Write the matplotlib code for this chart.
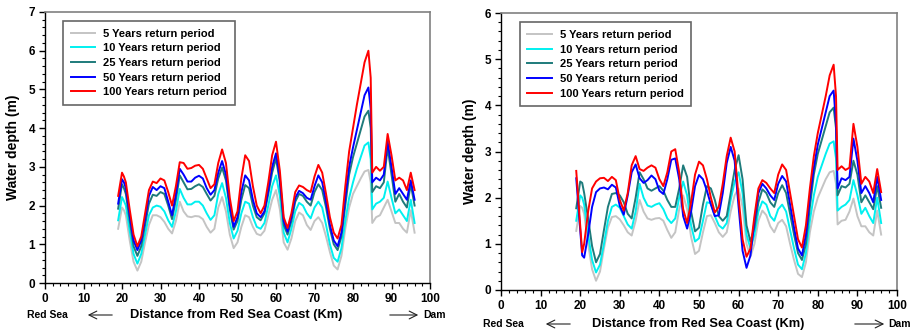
"""Water depth profiles along the wadi for several return periods (two scenarios)."""

import matplotlib
matplotlib.use("Agg")
import matplotlib.pyplot as plt
from matplotlib.ticker import AutoMinorLocator, MultipleLocator

plt.rcParams["font.family"] = ["Liberation Sans", "DejaVu Sans"]
plt.rcParams["font.weight"] = "bold"

# distance from Red Sea coast (km), shared by every series
X_KM = [19, 20, 20.5] + list(range(21, 85)) + [84.6] + list(range(85, 97))

LABELS = [
    "5 Years return period",
    "10 Years return period",
    "25 Years return period",
    "50 Years return period",
    "100 Years return period",
]
COLORS = ["#c4c4c4", "#00f0f0", "#1e7b7b", "#0000ff", "#ff0000"]

# ---- left panel (scenario 1) ----
L_5 = [1.4, 1.95, 1.88, 1.75, 1.1, 0.55, 0.32, 0.55, 1.05, 1.5, 1.75, 1.75,
       1.7, 1.58, 1.4, 1.28, 1.6, 2.1, 1.85, 1.72, 1.7, 1.73,
       1.72, 1.65, 1.45, 1.3, 1.4, 1.95, 2.22, 1.85, 1.25, 0.9,
       1.05, 1.45, 1.75, 1.7, 1.45, 1.27, 1.23, 1.35, 1.75, 2.15,
       2.4, 1.9, 1.05, 0.86, 1.15, 1.6, 1.82, 1.75, 1.5, 1.37,
       1.6, 1.7, 1.55, 1.2, 0.8, 0.45, 0.35, 0.7, 1.4, 1.95,
       2.3, 2.5, 2.7, 2.88, 2.92, 2.6,
       1.55, 1.7, 1.75, 1.95, 2.15, 1.85, 1.55, 1.55, 1.4, 1.3, 1.88, 1.3]
L_10 = [1.62, 2.22, 2.12, 2.0, 1.35, 0.75, 0.5, 0.75, 1.25, 1.75, 1.95, 2.0,
        1.97, 1.85, 1.62, 1.45, 1.85, 2.43, 2.2, 2.03, 2.03, 2.1,
        2.1, 2.0, 1.8, 1.63, 1.75, 2.3, 2.58, 2.2, 1.55, 1.15,
        1.35, 1.8, 2.1, 2.05, 1.7, 1.45, 1.4, 1.55, 2.0, 2.5,
        2.78, 2.25, 1.3, 1.05, 1.4, 1.85, 2.07, 2.0, 1.8, 1.67,
        1.95, 2.1, 1.95, 1.5, 1.0, 0.65, 0.55, 0.9, 1.6, 2.2,
        2.6, 2.95, 3.25, 3.55, 3.63, 3.2,
        1.9, 2.05, 2.1, 2.2, 2.62, 2.2, 1.8, 1.9, 1.75, 1.6, 2.15, 1.55]
L_25 = [1.92, 2.55, 2.45, 2.3, 1.6, 0.95, 0.7, 0.95, 1.5, 2.05, 2.28, 2.25,
        2.35, 2.3, 2.0, 1.65, 2.15, 2.78, 2.6, 2.42, 2.43, 2.5,
        2.55, 2.48, 2.3, 2.13, 2.25, 2.7, 2.98, 2.65, 1.9, 1.38,
        1.6, 2.15, 2.53, 2.45, 2.0, 1.7, 1.62, 1.8, 2.3, 2.85,
        3.22, 2.6, 1.5, 1.25, 1.6, 2.1, 2.3, 2.25, 2.1, 2.0,
        2.35, 2.55, 2.4, 1.95, 1.4, 1.0, 0.85, 1.2, 2.0, 2.8,
        3.25, 3.6, 3.95, 4.3, 4.45, 4.0,
        2.35, 2.5, 2.45, 2.6, 3.5, 2.8, 2.1, 2.3, 2.1, 1.95, 2.55, 2.0]
L_50 = [2.05, 2.68, 2.6, 2.45, 1.75, 1.1, 0.85, 1.1, 1.65, 2.25, 2.48, 2.4,
        2.5, 2.45, 2.1, 1.75, 2.3, 2.95, 2.8, 2.62, 2.62, 2.72,
        2.77, 2.7, 2.45, 2.28, 2.4, 2.85, 3.15, 2.8, 2.0, 1.45,
        1.7, 2.35, 2.78, 2.65, 2.15, 1.8, 1.7, 1.85, 2.4, 3.0,
        3.35, 2.7, 1.6, 1.33, 1.7, 2.2, 2.38, 2.32, 2.2, 2.15,
        2.5, 2.78, 2.6, 2.1, 1.5, 1.1, 0.95, 1.3, 2.2, 3.0,
        3.5, 3.95, 4.4, 4.85, 5.05, 4.5,
        2.6, 2.72, 2.65, 2.8, 3.65, 3.0, 2.3, 2.45, 2.3, 2.15, 2.65, 2.15]
L_100 = [2.25, 2.85, 2.75, 2.6, 1.9, 1.25, 0.95, 1.2, 1.8, 2.4, 2.62, 2.58,
         2.7, 2.65, 2.35, 2.0, 2.5, 3.12, 3.1, 2.95, 2.97, 3.03,
         3.05, 2.95, 2.7, 2.45, 2.55, 3.1, 3.45, 3.1, 2.2, 1.6,
         1.85, 2.7, 3.3, 3.15, 2.5, 2.0, 1.8, 2.0, 2.6, 3.3,
         3.65, 2.9, 1.7, 1.42, 1.8, 2.35, 2.52, 2.48, 2.4, 2.35,
         2.75, 3.05, 2.85, 2.3, 1.7, 1.3, 1.15, 1.5, 2.5, 3.4,
         4.0, 4.6, 5.15, 5.7, 6.0, 5.3,
         2.85, 3.0, 2.9, 3.0, 3.85, 3.3, 2.65, 2.72, 2.65, 2.4, 2.85, 2.4]

# ---- right panel (scenario 2) ----
R_5 = [1.28, 1.82, 1.78, 1.65, 1.0, 0.45, 0.2, 0.4, 0.9, 1.35, 1.58, 1.6,
       1.53, 1.4, 1.25, 1.18, 1.5, 1.95, 1.7, 1.55, 1.52, 1.55,
       1.56, 1.5, 1.3, 1.13, 1.25, 1.75, 2.05, 1.75, 1.15, 0.78,
       0.85, 1.25, 1.6, 1.62, 1.45, 1.25, 1.15, 1.25, 1.7, 2.05,
       2.2, 1.8, 1.0, 0.72, 1.0, 1.5, 1.72, 1.62, 1.38, 1.25,
       1.45, 1.52, 1.38, 1.0, 0.65, 0.35, 0.28, 0.6, 1.25, 1.7,
       2.0, 2.2, 2.4, 2.55, 2.58, 2.3,
       1.42, 1.5, 1.52, 1.7, 1.98, 1.6, 1.38, 1.38, 1.25, 1.18, 1.72, 1.2]
R_10 = [1.5, 2.05, 2.0, 1.85, 1.2, 0.65, 0.38, 0.55, 1.0, 1.5, 1.8, 1.85,
        1.78, 1.6, 1.42, 1.33, 1.7, 2.3, 2.0, 1.83, 1.8, 1.85,
        1.88, 1.75, 1.55, 1.45, 1.55, 2.0, 2.35, 2.05, 1.4, 1.05,
        1.12, 1.5, 1.9, 1.88, 1.6, 1.4, 1.33, 1.45, 1.95, 2.35,
        2.55, 2.1, 1.2, 0.9, 1.2, 1.7, 1.92, 1.85, 1.6, 1.5,
        1.75, 1.85, 1.7, 1.3, 0.9, 0.55, 0.45, 0.8, 1.5, 2.05,
        2.45, 2.7, 2.95, 3.17, 3.22, 2.85,
        1.72, 1.8, 1.85, 1.95, 2.38, 2.05, 1.65, 1.78, 1.6, 1.45, 2.0, 1.45]
R_25 = [1.77, 2.35, 2.32, 2.1, 1.55, 0.95, 0.6, 0.78, 1.3, 1.8, 2.08, 2.1,
        2.05, 1.9, 1.65, 1.55, 2.0, 2.55, 2.4, 2.2, 2.15, 2.2,
        2.25, 2.15, 1.95, 1.8, 1.8, 2.2, 2.7, 2.45, 1.7, 1.27,
        1.35, 1.85, 2.25, 2.2, 1.95, 1.6, 1.5, 1.6, 2.1, 2.6,
        2.92, 2.4, 1.4, 1.05, 1.35, 1.9, 2.18, 2.1, 1.9, 1.8,
        2.1, 2.27, 2.1, 1.65, 1.2, 0.8, 0.65, 1.0, 1.8, 2.5,
        2.95, 3.25, 3.55, 3.85, 3.95, 3.5,
        2.05, 2.25, 2.22, 2.3, 2.8, 2.5, 1.9, 2.05, 1.9, 1.75, 2.25, 1.78]
R_50 = [2.42, 1.3, 0.75, 0.7, 1.2, 1.8, 2.12, 2.2, 2.22, 2.18, 2.28, 2.22,
        1.82, 1.63, 2.05, 2.55, 2.72, 2.42, 2.32, 2.38, 2.48, 2.4,
        2.15, 2.08, 2.4, 2.82, 2.85, 2.4, 1.6, 1.33, 1.7, 2.25,
        2.49, 2.4, 2.15, 1.85, 1.6, 1.62, 2.1, 2.75, 3.1, 2.8,
        1.8, 0.85, 0.48, 0.75, 1.5, 2.1, 2.3, 2.2, 2.05, 1.95,
        2.3, 2.47, 2.35, 1.85, 1.35, 0.9, 0.75, 1.2, 2.0, 2.65,
        3.15, 3.5, 3.85, 4.2, 4.32, 3.6,
        2.2, 2.42, 2.38, 2.45, 3.28, 2.8, 2.1, 2.25, 2.1, 1.9, 2.45, 1.95]
R_100 = [2.58, 1.4, 0.82, 1.0, 1.7, 2.2, 2.35, 2.42, 2.43, 2.36, 2.45, 2.38,
         1.95, 1.72, 2.1, 2.7, 2.9, 2.62, 2.58, 2.65, 2.7, 2.65,
         2.4, 2.25, 2.55, 3.0, 3.05, 2.55, 1.75, 1.45, 1.9, 2.5,
         2.78, 2.7, 2.4, 2.0, 1.68, 1.8, 2.3, 2.9, 3.3, 3.0,
         2.0, 1.1, 0.72, 0.9, 1.6, 2.2, 2.38, 2.32, 2.2, 2.1,
         2.5, 2.72, 2.6, 2.1, 1.6, 1.1, 0.92, 1.4, 2.2, 2.9,
         3.4, 3.8, 4.2, 4.65, 4.88, 4.2,
         2.6, 2.68, 2.6, 2.65, 3.6, 3.1, 2.3, 2.45, 2.35, 2.1, 2.62, 2.12]

LEFT = [L_5, L_10, L_25, L_50, L_100]
RIGHT = [R_5, R_10, R_25, R_50, R_100]
Y_MAX = [7, 6]


def _panel(fig, rect, series, ymax, label_x):
    ax = fig.add_axes(rect)
    for ys, lab, col in zip(series, LABELS, COLORS):
        assert len(ys) == len(X_KM), (lab, len(ys))
        ax.plot(X_KM, ys, color=col, lw=1.4, label=lab)

    ax.set_xlim(0, 100)
    ax.set_ylim(0, ymax)
    ax.xaxis.set_major_locator(MultipleLocator(10))
    ax.yaxis.set_major_locator(MultipleLocator(1))
    ax.xaxis.set_minor_locator(AutoMinorLocator(5))
    ax.yaxis.set_minor_locator(AutoMinorLocator(5))
    ax.tick_params(which="major", direction="out", length=4, width=1, labelsize=8.5, pad=3)
    ax.tick_params(which="minor", direction="out", length=2.5, width=0.8)
    for side in ("top", "right"):
        ax.spines[side].set_color("#808080")
        ax.spines[side].set_linewidth(1.2)
    for side in ("left", "bottom"):
        ax.spines[side].set_linewidth(1.0)
    for t in ax.get_xticklabels() + ax.get_yticklabels():
        t.set_fontweight("bold")

    ax.set_ylabel("Water depth (m)", fontsize=10, fontweight="bold")
    ax.yaxis.set_label_coords(label_x, 0.5)

    leg = ax.legend(loc="upper left", bbox_to_anchor=(0.047, 0.967), borderaxespad=0,
                    fancybox=False, frameon=True, handlelength=2.2,
                    handletextpad=0.7, labelspacing=0.42, borderpad=0.7,
                    prop={"weight": "bold", "size": 8})
    leg.get_frame().set_edgecolor("#404040")
    leg.get_frame().set_linewidth(1.2)
    return ax


def _bottom_text(fig, x_red, x_arr_l, x_mid, x_arr_r, x_dam, y):
    W, H = 916, 334
    fy = 1 - y / H
    fig.text(x_red / W, fy, "Red Sea", fontsize=7.5, fontweight="bold", ha="left", va="center")
    fig.text(x_mid / W, fy, "Distance from Red Sea Coast (Km)", fontsize=9.3,
             fontweight="bold", ha="center", va="center")
    fig.text(x_dam / W, fy, "Dam", fontsize=7.5, fontweight="bold", ha="left", va="center")
    plt.annotate("", xy=(x_arr_l[0] / W, fy), xytext=(x_arr_l[1] / W, fy),
                 xycoords="figure fraction",
                 arrowprops=dict(arrowstyle="->", lw=0.8, color="#222222", mutation_scale=14))
    plt.annotate("", xy=(x_arr_r[1] / W, fy), xytext=(x_arr_r[0] / W, fy),
                 xycoords="figure fraction",
                 arrowprops=dict(arrowstyle="->", lw=0.8, color="#222222", mutation_scale=14))


def main():
    fig = plt.figure(figsize=(9.16, 3.34), dpi=100)
    _panel(fig, [45 / 916, 1 - 283 / 334, 385 / 916, 271 / 334], LEFT, Y_MAX[0], -0.065)
    _panel(fig, [501 / 916, 1 - 290 / 334, 396 / 916, 277 / 334], RIGHT, Y_MAX[1], -0.06)

    _bottom_text(fig, 27, (85, 115), 236, (387, 421), 423, 315)
    _bottom_text(fig, 483, (543, 573), 698, (852, 887), 888, 324)

    fig.savefig("out.png", dpi=100, facecolor="white")
    plt.close(fig)


if __name__ == "__main__":
    main()
